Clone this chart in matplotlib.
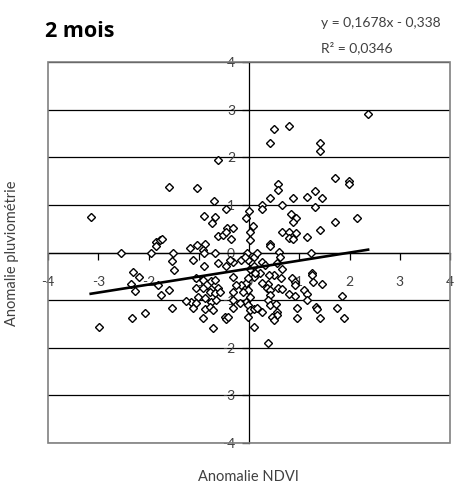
import matplotlib
matplotlib.use("Agg")
import matplotlib.pyplot as plt
from matplotlib.patches import Rectangle

plt.rcParams['font.family'] = ['Lato', 'DejaVu Sans']
plt.rcParams['axes.unicode_minus'] = False

# anomalies NDVI (x) et pluviometrie (y)
ndvi = [
    -0.61, -1.59, -1.03, -0.70, -3.15, -0.45, -0.89, -0.67, -0.73, 0.00, -0.06, 0.07, 0.25, 0.25,
    2.37, 0.50, 0.79, 0.42, 1.42, 1.42, 1.71, 1.99, 1.99, 0.57, 0.57, 0.42, 0.87, 1.15, 1.32, 1.45,
    1.32, 0.65, 0.83, 0.93, 0.87, 1.71, 2.15,
    0.65, 0.79, 0.93, 0.79, 0.87, 1.42, 1.15, 0.01, 0.01, 0.42, 0.42, 0.60, 0.62, 1.23,
    -0.61, -0.51, -0.43, -0.45, -0.31, -0.35, -1.86, -1.78, -1.74, -1.85, -1.18, -1.03, -0.87,
    -0.91, -2.55, -1.95, -1.51,
    -0.68, -0.90, -0.03, 0.09, 0.15, -0.01, -0.15, -0.31, 0.25, -1.11, -0.61, -0.45, -0.90, -0.38,
    -0.08, -1.53, -1.50, 0.02, 0.09, 0.09, 0.55, 0.32, 0.65, 0.22, 0.49, 0.63, 1.25, 1.25, 0.85,
    0.91, 0.91, 1.27, 1.45,
    0.38, 0.35, 0.42, 0.57, 0.65, 0.42, 0.79, 0.92, 1.09, 1.15, 1.15, 1.86, -0.05, -0.01, 0.02,
    -0.05, -0.01, 0.02, 0.09, -0.01, 0.09, 0.37, 0.42, 0.54, 0.55, 0.56, 0.45, 0.49, 0.95, 0.95,
    1.33, 1.35, 1.42, 1.75, 1.90, 0.37,
    -0.31, -0.15, -0.25, -0.31, -0.11, 0.12, 0.25, 0.39, -0.01, -1.06, -0.91, -0.75, -0.68, -0.61,
    -1.05, -0.91, -0.75, -0.78, -0.68, -0.58, -1.01, -0.88, -0.75, -0.65, -1.15, -1.05, -1.11,
    -0.88, -0.78, -0.71, -1.26, -0.31, -0.31, -0.18, 0.15, 0.25, -0.91, -0.72, -0.48, -0.45, -0.41,
    -2.31, -2.18, -2.35, -2.26, -1.81, -1.75, -1.59, -2.33, -2.06, -1.53, -2.98,
]
pluvio = [
    1.94, 1.38, 1.35, 1.09, 0.74, 0.91, 0.77, 0.74, 0.61, 0.87, 0.73, 0.56, 1.00, 0.91,
    2.91, 2.59, 2.66, 2.29, 2.29, 2.14, 1.56, 1.50, 1.44, 1.43, 1.31, 1.15, 1.15, 1.17, 1.29, 1.15,
    0.96, 1.00, 0.80, 0.73, 0.63, 0.64, 0.73,
    0.44, 0.44, 0.40, 0.30, 0.28, 0.47, 0.32, 0.44, 0.27, 0.18, 0.14, 0.02, -0.09, 0.00,
    0.35, 0.37, 0.51, 0.44, 0.52, 0.28, 0.21, 0.26, 0.29, 0.14, 0.09, 0.15, 0.18,
    0.05, 0.00, 0.00, -0.02,
    -0.02, -0.02, -0.02, -0.09, -0.02, -0.16, -0.16, -0.19, -0.19, -0.15, -0.21, -0.28, -0.28, -0.16,
    -0.09, -0.17, -0.37, -0.35, -0.28, -0.51, -0.23, -0.26, -0.35, -0.44, -0.47, -0.54, -0.42, -0.47, -0.54,
    -0.61, -0.68, -0.61, -0.67,
    -0.66, -0.75, -0.79, -0.75, -0.77, -0.89, -0.87, -0.91, -0.78, -0.87, -0.99, -0.91, -0.65, -0.79, -0.93,
    -1.03, -1.10, -1.21, -1.19, -1.35, -1.56, -1.00, -1.10, -1.09, -1.24, -1.31, -1.36, -1.42, -1.17, -1.38,
    -1.15, -1.18, -1.38, -1.17, -1.38, -1.89,
    -0.51, -0.68, -0.68, -0.82, -0.82, -0.44, -0.65, -0.47, -0.54, -0.53, -0.58, -0.60, -0.57, -0.75,
    -0.74, -0.75, -0.77, -0.82, -0.86, -0.82, -0.93, -0.96, -1.03, -1.00, -1.03, -1.07, -1.17,
    -1.18, -1.14, -1.21, -1.02, -1.00, -1.17, -1.07, -1.17, -1.24, -1.37, -1.59, -1.35, -1.40, -1.35,
    -0.41, -0.51, -0.67, -0.80, -0.68, -0.89, -0.79, -1.38, -1.26, -1.17, -1.56,
]

# courbe de tendance (Excel)
pente = 0.1678
ordonnee = -0.338
equation = "y = 0,1678x - 0,338"
r2 = "R² = 0,0346"
ticks = [-4, -3, -2, -1, 0, 1, 2, 3, 4]

fig = plt.figure(figsize=(4.54, 4.95), dpi=100)
ax = fig.add_axes([48 / 454, 1 - 443 / 495, 402 / 454, 381 / 495])
ax.set_xlim(-4, 4)
ax.set_ylim(-4, 4)

# grille horizontale
for t in ticks:
    ax.axhline(t, color='black', lw=0.9, zorder=1)

# axes qui se croisent a zero
ax.spines['left'].set_position(('data', 0))
ax.spines['bottom'].set_position(('data', 0))
ax.spines['top'].set_visible(False)
ax.spines['right'].set_visible(False)
for s in ('left', 'bottom'):
    ax.spines[s].set_color('black')
    ax.spines[s].set_linewidth(0.9)
ax.add_patch(Rectangle((0, 0), 1, 1, transform=ax.transAxes, fill=False,
                       edgecolor='#808080', lw=1.2, zorder=3, clip_on=False))

ax.set_xticks(ticks)
ax.set_yticks(ticks)
ax.tick_params(axis='x', direction='out', length=5, width=0.9, pad=12,
               labelsize=10, labelcolor='#404040')
ax.tick_params(axis='y', direction='out', length=5, width=0.9, pad=5,
               labelsize=10, labelcolor='#404040')

ax.plot(ndvi, pluvio, linestyle='none', marker='D', markersize=3.8,
        markerfacecolor='white', markeredgecolor='black', markeredgewidth=1.0, zorder=4)

xs = [min(ndvi), max(ndvi)]
ax.plot(xs, [pente * v + ordonnee for v in xs], color='black', lw=1.9, zorder=5)

fig.text(45 / 454, 1 - 37 / 495, "2 mois", fontsize=15.5, fontweight='bold', ha='left',
         va='baseline', family=['Open Sans', 'DejaVu Sans'])
fig.text(321 / 454, 1 - 27 / 495, equation, fontsize=10, color='#404040', ha='left', va='baseline')
fig.text(321 / 454, 1 - 52 / 495, r2, fontsize=10, color='#404040', ha='left', va='baseline')
fig.text(12 / 454, 1 - 253 / 495, "Anomalie pluviométrie", rotation=90, fontsize=10.5,
         color='#404040', ha='center', va='center')
fig.text(248 / 454, 1 - 477 / 495, "Anomalie NDVI", fontsize=10.5, color='#404040',
         ha='center', va='center')

fig.savefig('out.png', dpi=100)
